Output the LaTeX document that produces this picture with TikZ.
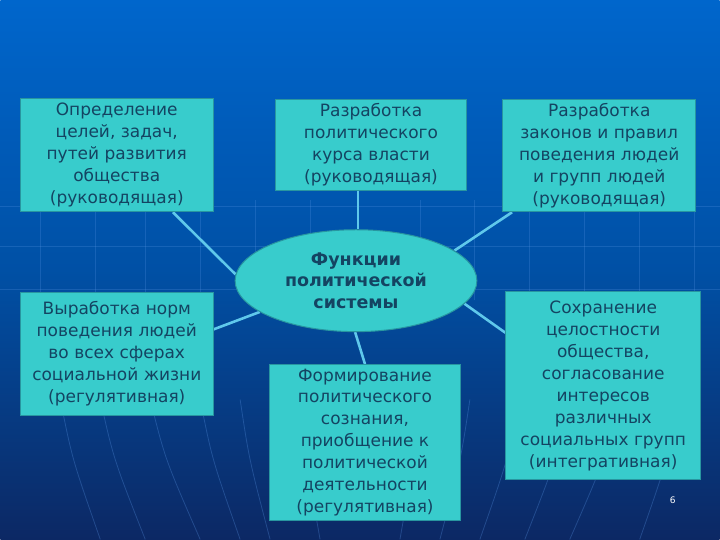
\documentclass[tikz,border=0pt]{standalone}
\usepackage{fontspec}
\setmainfont{DejaVu Sans}
\usetikzlibrary{calc,shapes.geometric}
\pgfdeclarelayer{bg}
\pgfdeclarelayer{links}
\pgfsetlayers{bg,links,main}
\definecolor{bgtop}{RGB}{0,102,204}
\definecolor{bgmid}{RGB}{0,80,165}
\definecolor{bgbot}{RGB}{12,40,100}
\definecolor{boxfill}{RGB}{56,204,204}
\definecolor{boxline}{RGB}{40,150,160}
\definecolor{txt}{RGB}{20,68,98}
\definecolor{conn}{RGB}{95,200,235}
\definecolor{gridc}{RGB}{90,150,230}
\tikzset{
  fbox/.style={rectangle, fill=boxfill, draw=boxline, line width=1pt, align=center,
    text=txt, inner sep=0pt, font=\fontsize{17}{22}\selectfont},
  hub/.style={ellipse, fill=boxfill, draw=boxline, line width=1pt, align=center,
    text=txt, inner sep=0pt, minimum width=242pt, minimum height=102pt,
    font=\fontsize{17.5}{21.5}\selectfont\bfseries},
  link/.style={draw=conn, line width=2.6pt},
  bgline/.style={draw=gridc, opacity=0.25, line width=0.8pt},
}
\begin{document}
\begin{tikzpicture}[x=1pt,y=-1pt]
\begin{pgfonlayer}{bg}
\shade[top color=bgtop, bottom color=bgbot, middle color=bgmid] (0,0) rectangle (720,540);
\foreach \yy in {207,247,290} {\draw[bgline] (0,\yy) -- (720,\yy);}
\foreach \xx in {40,95,145,200,255,310,420,475,530,585,640,695} {\draw[bgline] (\xx,200) -- (\xx,300);}
\foreach \xx/\dd in {60/40,100/45,150/50,200/40,240/30,300/20,420/-20,470/-30,520/-40,570/-45,620/-50,680/-40} {
  \draw[bgline, opacity=0.3] (\xx,400) .. controls (\xx+\dd*0.3,460) .. (\xx+\dd,540);
}
\end{pgfonlayer}
\useasboundingbox (0,0) rectangle (720,540);
% boxes
\node[fbox, minimum width=193pt, minimum height=113pt] (b1) at (116.5,155.5)
  {Определение\\целей, задач,\\путей развития\\общества\\(руководящая)};
\node[fbox, minimum width=192pt, minimum height=91pt] (b2) at (371,145)
  {Разработка\\политического\\курса власти\\(руководящая)};
\node[fbox, minimum width=193pt, minimum height=112pt] (b3) at (599.5,156)
  {Разработка\\законов и правил\\поведения людей\\и групп людей\\(руководящая)};
\node[fbox, minimum width=193pt, minimum height=123pt] (b4) at (116.5,354.5)
  {Выработка норм\\поведения людей\\во всех сферах\\социальной жизни\\(регулятивная)};
\node[fbox, minimum width=192pt, minimum height=156pt] (b5) at (365,443)
  {Формирование\\политического\\сознания,\\приобщение к\\политической\\деятельности\\(регулятивная)};
\node[fbox, minimum width=195pt, minimum height=188pt] (b6) at (603.5,386)
  {Сохранение\\целостности\\общества,\\согласование\\интересов\\различных\\социальных групп\\(интегративная)};
\node[hub] (hub) at (356,281) {Функции\\политической\\системы};
% connectors
\coordinate (c1) at ($(b1.south west)!0.79!(b1.south east)$);
\coordinate (c2) at ($(b2.south west)!0.432!(b2.south east)$);
\coordinate (c3) at ($(b3.south west)!0.05!(b3.south east)$);
\coordinate (c4) at ($(b4.north east)!0.3!(b4.south east)$);
\coordinate (c5) at ($(b5.north west)!0.5!(b5.north east)$);
\coordinate (c6) at ($(b6.north west)!0.22!(b6.south west)$);
\begin{pgfonlayer}{links}
\draw[link] (c1) -- (hub.177);
\draw[link] (c2) -- (hub.north -| c2);
\draw[link] (c3) -- (hub.17);
\draw[link] (c4) -- (hub.198);
\draw[link] (hub.269) -- (c5);
\draw[link] (hub.-12) -- (c6);
\end{pgfonlayer}
\node[text=white, font=\fontsize{9}{10}\selectfont] (pg) at (673,501) {6};
\end{tikzpicture}
\end{document}
